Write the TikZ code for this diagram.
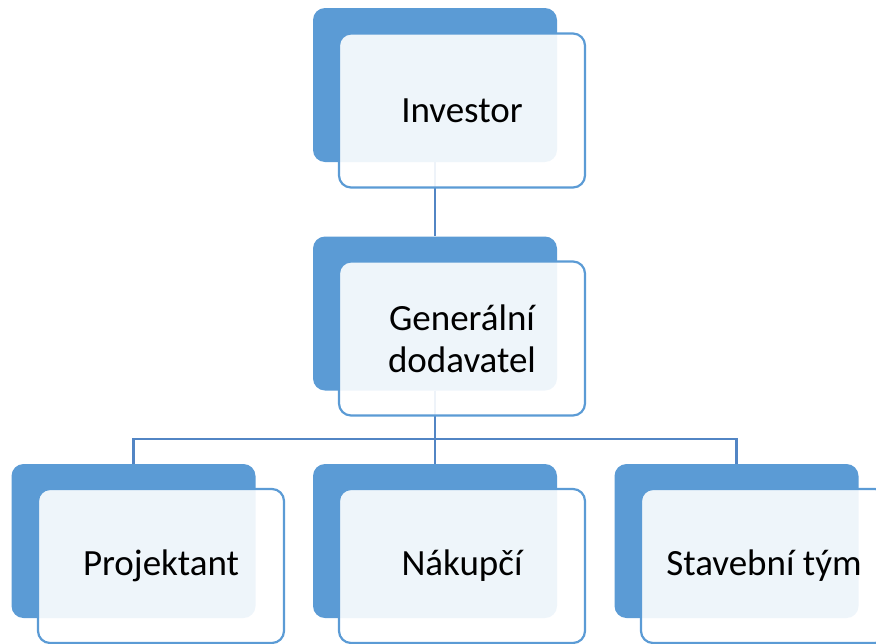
\documentclass[tikz,border=0pt]{standalone}
\usepackage{fontspec}
\setmainfont{Carlito}
\begin{document}
\begin{tikzpicture}[x=1pt,y=-1pt,
  backbox/.style={fill=accent, draw=none, rounded corners=12pt,
    minimum width=244pt, minimum height=154pt, inner sep=0pt},
  frontbox/.style={draw=accent, line width=2.2pt, fill=white, fill opacity=0.9,
    text opacity=1, rounded corners=12pt, minimum width=246pt, minimum height=154pt,
    inner sep=0pt, align=center, font=\fontsize{37}{42}\selectfont},
  link/.style={draw=linkblue, line width=2.2pt}]
\definecolor{accent}{RGB}{91,155,213}
\definecolor{linkblue}{RGB}{82,133,196}
\useasboundingbox (0,0) rectangle (876,643);

% back panels
\node[backbox] (inv-b)  at (435,85)    {};
\node[backbox] (gd-b)   at (435,313.5) {};
\node[backbox] (proj-b) at (133.5,541) {};
\node[backbox] (nak-b)  at (435,541)   {};
\node[backbox] (stav-b) at (736.5,541) {};

% connectors between the panels
\coordinate (bus) at (435,439);
\draw[link] (inv-b.south) -- (gd-b.north);
\draw[link] (gd-b.south) -- (bus);
\draw[link] (bus) -| (proj-b.north);
\draw[link] (bus) -- (nak-b.north);
\draw[link] (bus) -| (stav-b.north);

% front cards with labels
\node[frontbox] (inv)  at (462,110.5) {Investor};
\node[frontbox] (gd)   at (462,338.5) {Generální\\dodavatel};
\node[frontbox] (proj) at (161,566)   {Projektant};
\node[frontbox] (nak)  at (462,566)   {Nákupčí};
\node[frontbox] (stav) at (764,566)   {Stavební tým};
\end{tikzpicture}
\end{document}
